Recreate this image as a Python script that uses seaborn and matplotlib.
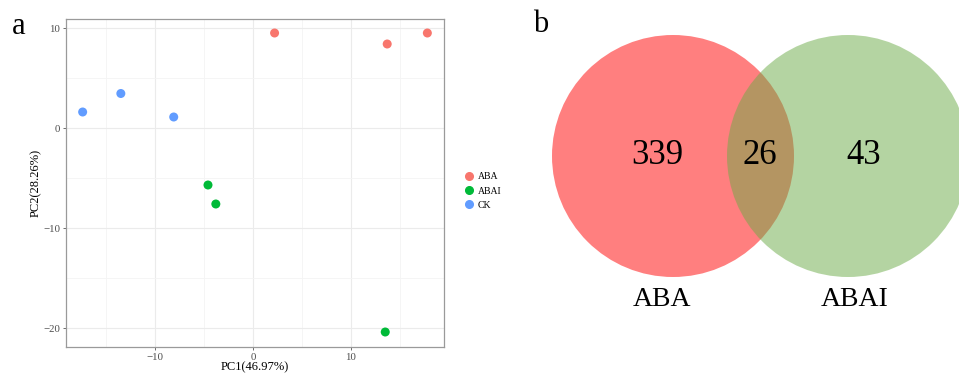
""" PCA score plot (a) and two-set Venn diagram (b).
"""
import numpy as np
import pandas as pd
from matplotlib import pyplot as plt
from matplotlib.patches import Circle
from matplotlib.lines import Line2D
import seaborn as sns

# PCA scores
groups = ["ABA", "ABA", "ABA", "ABAI", "ABAI", "ABAI", "CK", "CK", "CK"]
pc1 = [2.2, 13.7, 17.8, -4.6, -3.8, 13.5, -17.4, -13.5, -8.1]
pc2 = [9.5, 8.4, 9.5, -5.7, -7.6, -20.4, 1.6, 3.45, 1.1]
group_order = ["ABA", "ABAI", "CK"]
group_colors = ["#F8766D", "#00BA38", "#619CFF"]

# Venn counts (only ABA, shared, only ABAI)
venn_sets = ["ABA", "ABAI"]
venn_counts = [339, 26, 43]

sns.set_theme(style="white")
plt.rcParams["font.family"] = ["Liberation Serif", "DejaVu Serif"]
plt.rcParams["text.color"] = "black"
plt.rcParams["axes.labelcolor"] = "black"

fig = plt.figure(figsize=(9.59, 3.74), dpi=100)

# ---- panel a
ax = fig.add_axes([66 / 959, 27 / 374, 378 / 959, 328 / 374])
df = pd.DataFrame({"group": groups, "PC1": pc1, "PC2": pc2})
sns.scatterplot(data=df, x="PC1", y="PC2", hue="group", hue_order=group_order,
                palette=group_colors, s=42, edgecolor="none", ax=ax, legend=False,
                zorder=3)
ax.set_xlim(-19.1, 19.5)
ax.set_ylim(-21.9, 10.9)
ax.set_xticks([-10, 0, 10])
ax.set_xticklabels(["\u221210", "0", "10"])
ax.set_yticks([10, 0, -10, -20])
ax.set_yticklabels(["10", "0", "\u221210", "\u221220"])
ax.set_xticks([-15, -5, 5, 15], minor=True)
ax.set_yticks([5, -5, -15], minor=True)
ax.grid(which="major", color="#EBEBEB", lw=0.8)
ax.grid(which="minor", color="#F4F4F4", lw=0.6)
ax.set_axisbelow(True)
for sp in ax.spines.values():
    sp.set_color("#9A9A9A")
    sp.set_linewidth(0.9)
ax.tick_params(which="major", length=2.5, width=0.6, color="#555555",
               labelsize=7.8, labelcolor="#4D4D4D", pad=1.5, bottom=True, left=True)
ax.tick_params(which="minor", length=0)
ax.set_xlabel("PC1(46.97%)", fontsize=9, labelpad=0)
ax.set_ylabel("PC2(28.26%)", fontsize=9, labelpad=1)

handles = [Line2D([], [], marker="o", ls="", color=c, markersize=5.5) for c in group_colors]
fig.legend(handles, group_order, loc="center left", bbox_to_anchor=(459 / 959, 1 - 191 / 374),
           frameon=False, fontsize=7, handletextpad=0.3, labelspacing=0.55,
           borderaxespad=0, handlelength=1.2)

fig.text(12 / 959, 1 - 27 / 374, "a", fontsize=22, va="center", ha="left")

# ---- panel b
vx = fig.add_axes([500 / 959, 0, 459 / 959, 1])
vx.set_xlim(500, 959)
vx.set_ylim(374, 0)
vx.set_aspect("equal")
vx.axis("off")
r = 121
centers = [(673, 156), (848, 156)]
venn_colors = ["#FF0000", "#6BAB47"]
for (cx, cy), col in zip(centers, venn_colors):
    vx.add_patch(Circle((cx, cy), r, facecolor=col, edgecolor="none", alpha=0.5))
count_x = [657, 760, 864]
for xx, n in zip(count_x, venn_counts):
    vx.text(xx, 155, str(n), fontsize=25, ha="center", va="center")
for xx, name in zip([662, 855], venn_sets):
    vx.text(xx, 299, name, fontsize=20, ha="center", va="center")
vx.text(541, 24, "b", fontsize=22, ha="center", va="center")

plt.savefig("out.png", dpi=100)
